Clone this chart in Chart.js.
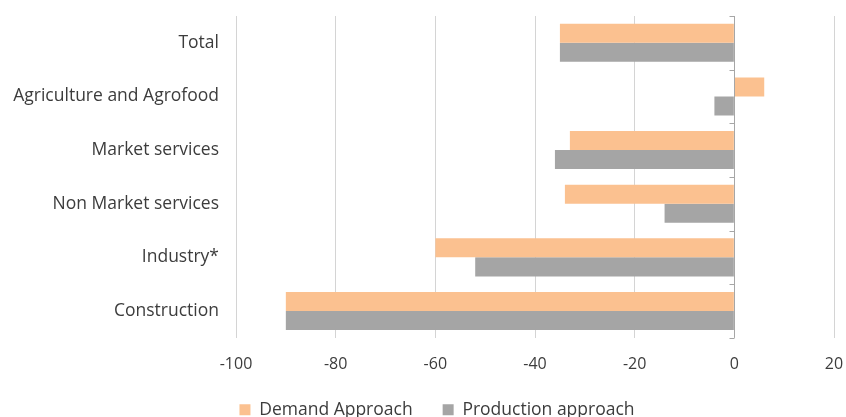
<!DOCTYPE html>
<html>
<head>
<meta charset="utf-8">
<script src="https://cdn.jsdelivr.net/npm/chart.js@4.4.1/dist/chart.umd.min.js"></script>
<style>
  html, body { margin: 0; padding: 0; background: #fff; overflow: hidden; }
  #wrap { position: relative; width: 846px; height: 421px; }
</style>
</head>
<body>
<div id="wrap"><canvas id="chart"></canvas></div>
<script>
// Sectors, top to bottom
const categories = ['Total', 'Agriculture and Agrofood', 'Market services', 'Non Market services', 'Industry*', 'Construction'];
// Change by sector, two estimation methods
const demandApproach = [-35, 6, -33, -34, -60, -90];
const productionApproach = [-35, -4, -36, -14, -52, -90];
const seriesNames = ['Demand Approach', 'Production approach'];
const xTicks = [-100, -80, -60, -40, -20, 0, 20];

const FONT = '"Open Sans", "Noto Sans", sans-serif';
const TEXT = '#3c3c3c';

// Zero line with short ticks between the category bands
const zeroAxis = {
  id: 'zeroAxis',
  afterDatasetsDraw(chart) {
    const { ctx, scales: { x, y } } = chart;
    const x0 = Math.round(x.getPixelForValue(0)) + 0.5;
    ctx.save();
    ctx.strokeStyle = '#a6a6a6';
    ctx.lineWidth = 1;
    ctx.beginPath();
    ctx.moveTo(x0, y.top);
    ctx.lineTo(x0, y.bottom);
    for (let i = 0; i <= categories.length; i++) {
      const py = Math.round(y.getPixelForValue(i - 0.5)) + 0.5;
      ctx.moveTo(x0 - 5, py);
      ctx.lineTo(x0, py);
    }
    ctx.stroke();
    ctx.restore();
  }
};

// Nudge the legend a little right of centre and up
const legendNudge = {
  id: 'legendNudge',
  afterLayout(chart) {
    const lg = chart.legend;
    if (!lg) return;
    lg.left += 20; lg.right += 20;
    lg.top -= 3; lg.bottom -= 3;
  }
};

new Chart(document.getElementById('chart'), {
  type: 'bar',
  data: {
    labels: categories,
    datasets: [
      { label: seriesNames[0], data: demandApproach, backgroundColor: '#fbc190' },
      { label: seriesNames[1], data: productionApproach, backgroundColor: '#a5a5a5' }
    ]
  },
  options: {
    indexAxis: 'y',
    responsive: true,
    maintainAspectRatio: false,
    animation: false,
    layout: { padding: { top: 16, right: 12, left: 0, bottom: 0 } },
    datasets: { bar: { categoryPercentage: 0.71, barPercentage: 1.0 } },
    scales: {
      x: {
        min: -100, max: 20,
        afterBuildTicks(scale) { scale.ticks = xTicks.map(v => ({ value: v })); },
        grid: { color: '#d4d4d4', drawTicks: true, tickLength: 17, tickColor: 'rgba(0,0,0,0)' },
        border: { display: false },
        ticks: { color: TEXT, font: { family: FONT, size: 16 }, padding: 0, maxRotation: 0, minRotation: 0 }
      },
      y: {
        afterFit(scale) { scale.width = 236; },
        grid: { display: true, drawOnChartArea: false, drawTicks: true, tickLength: 17, tickColor: 'rgba(0,0,0,0)' },
        border: { display: false },
        ticks: { color: TEXT, font: { family: FONT, size: 17.5 }, padding: 0 }
      }
    },
    plugins: {
      legend: {
        position: 'bottom',
        maxHeight: 47,
        labels: { color: TEXT, font: { family: FONT, size: 17.5 }, boxWidth: 11, boxHeight: 11, padding: 30 }
      },
      tooltip: { enabled: false }
    }
  },
  plugins: [zeroAxis, legendNudge]
});
</script>
</body>
</html>
